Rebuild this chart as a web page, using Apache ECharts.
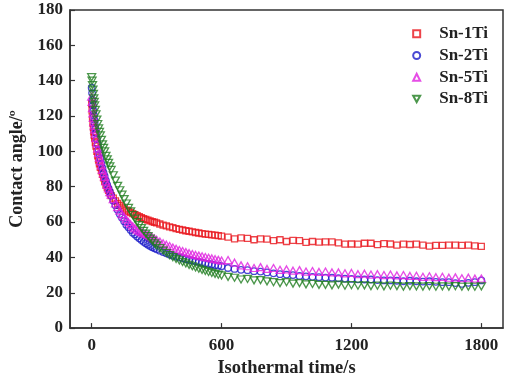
<!DOCTYPE html>
<html>
<head>
<meta charset="utf-8">
<script src="https://cdn.jsdelivr.net/npm/echarts@6/dist/echarts.min.js"></script>
<style>html,body{margin:0;padding:0;background:#fff;}#c{width:531px;height:383px;}</style>
</head>
<body>
<div id="c"></div>
<script>
var times = [0,2,4,6,8,10,12,14,17,20,24,28,32,36,40,45,50,55,60,66,72,78,84,90,
100,110,120,130,140,150,160,170,180,190,200,210,220,230,240,250,260,270,280,290,300,
315,330,345,360,375,390,405,420,435,450,465,480,495,510,525,540,555,570,585,600,
630,660,690,720,750,780,810,840,870,900,930,960,990,1020,1050,1080,1110,1140,1170,1200,
1230,1260,1290,1320,1350,1380,1410,1440,1470,1500,1530,1560,1590,1620,1650,1680,1710,1740,1770,1800];

var sn1Ti = [127,123,119,116,113.5,111,109,107.5,105,103,100,97.5,95,93,91,89,87,85,83,81,79.5,78,76.5,75,
73.5,72,70.5,69.5,68.5,67.5,66.8,66,65.4,64.8,64.2,63.6,63,62.5,62,61.5,61.1,60.7,60.3,59.9,59.5,
58.9,58.3,57.8,57.3,56.8,56.3,55.9,55.5,55.1,54.8,54.5,54.1,53.8,53.5,53.2,53,52.8,52.6,52.3,52.1,
51.5,50.5,51,50.8,50,50.5,50.3,49.5,50,49,49.6,49.5,48.5,49,48.6,48.8,48.8,48.2,47.5,47.6,
47.5,48,48,47.2,47.8,47.6,47,47.5,47.3,47.5,47,46.4,46.8,46.8,47,47,46.8,47,46.5,46.3];

var sn2Ti = [136,133,129,126,123,120.5,118,116,113,110.5,107,104,101,98.5,96,93,90.5,88,86,83.5,81,79,77,75,
72,69.5,67,64.5,62.5,60.5,58.5,57,55.5,54,53,51.8,50.8,49.8,48.8,48,47.2,46.5,45.8,45.2,44.6,
43.8,43,42.3,41.6,41,40.5,40,39.5,39,38.6,38.2,37.8,37.4,37,36.6,36.3,36,35.6,35.3,35,
34,33.5,33,32.8,32.2,32,31.5,31,30.5,30.3,30,29.5,29.3,29,28.8,28.6,28.5,28.2,28,27.8,
27.6,27.5,27.5,27.2,27,27,26.8,26.5,26.8,26.5,26.3,26.5,26.2,26,26,25.5,25,25.6,26,27];

var sn5Ti = [131,128,124.5,121.5,119,116.5,114.5,112.5,110,107.5,104.5,101.5,99,96.5,94.5,92,89.5,87.5,85.5,83,81,79,77,75.5,
73,70.5,68.5,66.5,64.5,63,61.5,60,58.8,57.6,56.5,55.7,55,54.3,53.8,53.3,52.7,52,51.3,50.6,50,
49,48,47.2,46.4,45.6,44.9,44.2,43.6,43,42.4,41.9,41.4,41,40.6,40.2,39.8,39.4,39,38.6,38.2,
38.5,37,35.5,35,34,34.5,33.5,34,33,33.2,32.5,32.8,32,32.3,31.8,32,31.5,31.5,31,31.2,
30.5,30.8,30.3,30.5,30,30.3,29.8,30,29.5,29.6,29,29.3,28.8,29,28.5,28.7,28.2,28.5,28,28];

var sn8Ti = [142,140,137.5,135,132.5,130,128,126,123.5,121,118,115.5,113,111,109,106.5,104,102,100,97.5,95.5,93.5,91.5,89.5,
86.5,83.5,80.5,78,75.5,73,70.5,68,66,64,62,60,58.3,56.6,55,53.5,52,50.6,49.3,48,46.8,
45.2,43.8,42.5,41.3,40.2,39.2,38.3,37.4,36.6,35.8,35,34.3,33.6,33,32.4,31.8,31.2,30.7,30.2,29.8,
29,28.5,27.5,27.8,27,27.2,26.5,26,25.5,26,25.2,25.5,24.8,25,24.5,24.5,24.2,24.6,24,24.3,
24,24.2,23.8,24,23.6,24,23.8,23.5,23.8,23.6,23.5,23.8,23.4,23.6,23.5,23.7,23.4,23.5,23.4,23.6];

var seriesNames = ['Sn-1Ti','Sn-2Ti','Sn-5Ti','Sn-8Ti'];
var xTicks = [0,600,1200,1800];

function pairs(vals){ return times.map(function(t,i){ return [t, vals[i]]; }); }

var serif = '"Liberation Serif","DejaVu Serif",serif';
var downTri = 'path://M0,0 L10,0 L5,9 Z';
var specs = [
  {vals: sn1Ti, color:'#e8141c', symbol:'rect', size:6},
  {vals: sn2Ti, color:'#1c1cc8', symbol:'circle', size:6.5},
  {vals: sn5Ti, color:'#e020e0', symbol:'triangle', size:[8,7]},
  {vals: sn8Ti, color:'#1f7d1f', symbol:downTri, size:[8,7]}
];

var chart = echarts.init(document.getElementById('c'), null, {renderer:'canvas'});
chart.setOption({
  animation:false,
  backgroundColor:'#fff',
  grid:{left:70, right:28, top:10, bottom:50, show:true, borderColor:'#333', borderWidth:1.5, backgroundColor:'transparent'},
  legend:{
    orient:'vertical', right:38, top:19, itemWidth:7, itemHeight:7, itemGap:2,
    data: seriesNames,
    textStyle:{fontFamily:serif, fontWeight:'bold', fontSize:17, color:'#222', lineHeight:19.7, padding:[0,0,0,14]}
  },
  xAxis:{
    type:'value', min:-100, max:1900,
    name:'Isothermal time/s', nameLocation:'middle', nameGap:28,
    nameTextStyle:{fontFamily:serif, fontWeight:'bold', fontSize:18.5, color:'#222'},
    axisLine:{onZero:false, lineStyle:{color:'#333', width:1.5}},
    axisTick:{inside:true, length:5, customValues:xTicks, lineStyle:{color:'#333', width:1.2}},
    axisLabel:{customValues:xTicks, formatter:function(v){return String(v);}, margin:9, fontFamily:serif, fontWeight:'bold', fontSize:17, color:'#222'},
    splitLine:{show:false}
  },
  yAxis:{
    type:'value', min:0, max:180, interval:20,
    name:'Contact angle/º', nameLocation:'middle', nameGap:35, nameRotate:90,
    nameTextStyle:{fontFamily:serif, fontWeight:'bold', fontSize:18, color:'#222'},
    axisLine:{onZero:false, lineStyle:{color:'#333', width:1.5}},
    axisTick:{inside:true, length:5, lineStyle:{color:'#333', width:1.2}},
    axisLabel:{margin:7, fontFamily:serif, fontWeight:'bold', fontSize:17, color:'#222'},
    splitLine:{show:false}
  },
  series: specs.map(function(s,i){
    return {
      name: seriesNames[i], type:'scatter', data: pairs(s.vals),
      symbol:s.symbol, symbolSize:s.size,
      itemStyle:{color:'rgba(255,255,255,0)', borderColor:s.color, borderWidth:1.3},
      emphasis:{disabled:true}
    };
  })
});
</script>
</body>
</html>
